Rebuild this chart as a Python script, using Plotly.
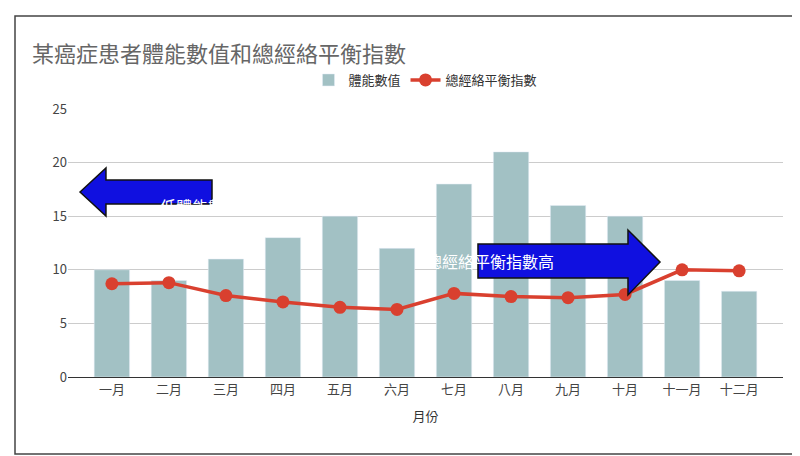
import plotly.graph_objects as go

months = ["一月","二月","三月","四月","五月","六月","七月","八月","九月","十月","十一月","十二月"]
body = [10, 9, 11, 13, 15, 12, 18, 21, 16, 15, 9, 8]
balance = [8.7, 8.8, 7.6, 7.0, 6.5, 6.3, 7.8, 7.5, 7.4, 7.7, 10.0, 9.9]

fig = go.Figure()
fig.add_bar(x=months, y=body, name="體能數值", marker_color="#a2c1c4", width=0.62)
fig.add_scatter(x=months, y=balance, name="總經絡平衡指數", mode="lines+markers",
                line=dict(color="#d9402f", width=3.5), marker=dict(color="#d9402f", size=13))

W, H = 800, 456
L, R, T, B = 60, 775, 101, 369
def px(x, y):
    return (x - L) / (R - L), 1 - (y - T) / (B - T)

def arrow(pts):
    return "M " + " L ".join(f"{x:.4f},{y:.4f}" for x, y in pts) + " Z"

left = [(72,184),(98,160),(98,172),(204,172),(204,196),(98,196),(98,208)]
right = [(652,254),(620,222),(620,236),(470,236),(470,270),(620,270),(620,287)]
for pts in (left, right):
    pp = [px(x, y) for x, y in pts]
    fig.add_shape(type="path", xref="paper", yref="paper", path=arrow(pp),
                  fillcolor="#1010e0", line=dict(color="#111", width=1.5))

x1, y1 = px(150, 184)
fig.add_annotation(xref="paper", yref="paper", x=x1, y=y1, text="低體能數值",
                   showarrow=False, font=dict(color="white", size=16))
x2, y2 = px(548, 253)
fig.add_annotation(xref="paper", yref="paper", x=x2, y=y2, text="總經絡平衡指數高",
                   showarrow=False, font=dict(color="white", size=16))
a0, b0 = px(7, 446)
a1, b1 = px(793, 8)
fig.add_shape(type="rect", xref="paper", yref="paper", x0=a0, x1=a1, y0=b0, y1=b1,
              line=dict(color="#444", width=1.5))

fig.update_layout(
    width=W, height=H, margin=dict(l=L, r=W - R, t=T, b=H - B),
    paper_bgcolor="white", plot_bgcolor="white",
    font=dict(family="Noto Sans CJK TC, Roboto, sans-serif", color="#555"),
    title=dict(text="某癌症患者體能數值和總經絡平衡指數", x=0.03, y=0.915, xanchor="left",
               font=dict(size=22, color="#666")),
    legend=dict(orientation="h", x=0.5, xanchor="center", y=px(0, 72)[1], yanchor="middle",
                font=dict(size=13, color="#333")),
    xaxis=dict(title=dict(text="月份", font=dict(size=13, color="#333")), tickfont=dict(size=13, color="#444"),
               showgrid=False, showline=True, linecolor="#333"),
    yaxis=dict(range=[0, 25], tickvals=[0,5,10,15,20,25], gridcolor="#ccc",
               tickfont=dict(size=13, color="#444"), zeroline=False, showline=False),
    bargap=0.38,
)
fig.write_html("out.html")
